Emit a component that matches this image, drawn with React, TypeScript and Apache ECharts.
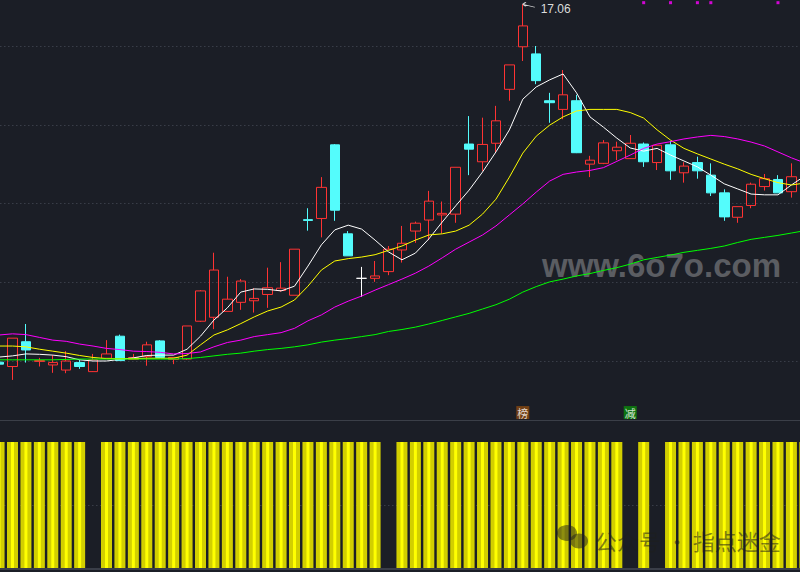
import React, { useEffect, useRef } from 'react';
import * as echarts from 'echarts';

// ---- data ----
const opens = [7.97, 7.86, 8.49, 7.99, 7.90, 7.77, 7.96, 7.73, 8.07, 8.63,
  8.04, 8.11, 8.51, 8.04, 8.05, 9.01, 9.11, 9.26, 9.49, 9.53,
  9.69, 9.79, 9.67, 11.59, 11.62, 13.49, 11.23, 10.10, 10.10, 10.27,
  10.82, 11.30, 11.58, 11.71, 11.73, 13.51, 13.06, 13.53, 14.90, 15.98,
  15.80, 14.61, 14.39, 14.61, 13.00, 13.02, 13.34, 13.14, 13.51, 13.04,
  13.49, 12.78, 13.04, 12.72, 12.27, 11.65, 11.95, 12.43, 12.61, 12.30, 12.60];
const closes = [7.92, 8.58, 8.28, 8.01, 7.96, 8.00, 7.86, 8.03, 8.18, 8.01,
  8.09, 8.41, 8.09, 8.09, 8.89, 9.78, 10.31, 9.57, 10.03, 9.59,
  9.86, 9.85, 10.84, 11.57, 12.41, 11.83, 10.67, 10.10, 10.16, 10.84,
  10.99, 11.50, 12.06, 11.75, 12.92, 13.38, 13.50, 14.10, 15.52, 16.51,
  15.12, 14.56, 14.76, 13.29, 13.10, 13.54, 13.43, 13.53, 13.06, 13.48,
  12.83, 12.95, 12.83, 12.27, 11.66, 11.92, 12.49, 12.63, 12.27, 12.68, 13.53];
const lows = [7.87, 7.52, 7.96, 7.86, 7.70, 7.69, 7.80, 7.72, 8.05, 8.00,
  8.03, 7.88, 8.08, 7.92, 8.03, 8.99, 8.81, 9.26, 9.30, 9.23,
  9.35, 9.76, 9.67, 11.31, 11.14, 11.56, 10.67, 9.63, 10.01, 10.18,
  10.50, 11.00, 11.07, 11.24, 11.51, 12.72, 12.83, 13.29, 14.61, 15.62,
  15.03, 14.05, 14.14, 13.28, 12.67, 13.00, 13.10, 13.13, 12.93, 12.85,
  12.60, 12.53, 12.63, 12.19, 11.56, 11.51, 11.88, 12.33, 12.27, 12.15, 12.47];
const highs = [8.05, 8.58, 8.94, 8.08, 8.15, 8.25, 8.03, 8.18, 8.53, 8.67,
  8.18, 8.49, 8.53, 8.10, 8.89, 9.80, 10.75, 10.14, 10.08, 9.85,
  10.37, 10.51, 10.84, 11.88, 12.67, 13.51, 11.30, 10.39, 10.54, 10.92,
  11.43, 11.54, 12.32, 12.05, 12.92, 14.22, 14.18, 14.48, 15.52, 17.06,
  16.00, 14.81, 15.39, 14.76, 13.21, 13.61, 13.57, 13.74, 13.55, 13.48,
  13.59, 13.05, 13.19, 13.02, 12.36, 11.92, 12.53, 12.75, 12.72, 13.02, 13.74];

const ma5 = [8.10, 8.13, 8.18, 8.17, 8.15, 8.11, 8.03, 8.00, 8.00, 8.04,
  8.08, 8.14, 8.15, 8.15, 8.30, 8.63, 9.04, 9.35, 9.75, 9.83,
  9.82, 9.78, 9.90, 10.41, 10.95, 11.33, 11.45, 11.35, 11.07, 10.77,
  10.57, 10.74, 11.10, 11.53, 11.94, 12.34, 12.80, 13.31, 13.87, 14.65,
  14.96, 15.14, 15.29, 14.81, 14.20, 13.94, 13.66, 13.41, 13.33, 13.40,
  13.23, 13.08, 12.93, 12.72, 12.50, 12.37, 12.24, 12.22, 12.22, 12.47, 12.70];
const ma10 = [8.38, 8.38, 8.36, 8.30, 8.25, 8.20, 8.14, 8.09, 8.06, 8.06,
  8.06, 8.07, 8.07, 8.07, 8.15, 8.41, 8.66, 8.79, 8.95, 9.12,
  9.27, 9.37, 9.55, 9.90, 10.31, 10.54, 10.60, 10.64, 10.70, 10.81,
  10.92, 11.07, 11.20, 11.23, 11.30, 11.45, 11.73, 12.11, 12.67, 13.28,
  13.71, 13.99, 14.20, 14.35, 14.39, 14.39, 14.39, 14.31, 14.17, 13.87,
  13.61, 13.40, 13.26, 13.13, 13.00, 12.88, 12.74, 12.63, 12.53, 12.47, 12.52];
const ma20 = [8.66, 8.69, 8.67, 8.60, 8.53, 8.50, 8.43, 8.38, 8.32, 8.29,
  8.25, 8.24, 8.22, 8.18, 8.19, 8.23, 8.36, 8.47, 8.53, 8.62,
  8.67, 8.72, 8.83, 9.02, 9.17, 9.37, 9.52, 9.65, 9.80, 9.94,
  10.08, 10.23, 10.41, 10.62, 10.84, 11.02, 11.20, 11.43, 11.71, 11.99,
  12.29, 12.57, 12.74, 12.80, 12.84, 12.91, 13.07, 13.23, 13.40, 13.51,
  13.57, 13.64, 13.69, 13.73, 13.70, 13.64, 13.56, 13.46, 13.31, 13.16, 13.03];
const ma60 = [8.03, 8.03, 8.03, 8.03, 8.03, 8.04, 8.05, 8.05, 8.05, 8.05,
  8.05, 8.05, 8.05, 8.05, 8.06, 8.09, 8.13, 8.17, 8.20, 8.25,
  8.29, 8.32, 8.36, 8.41, 8.48, 8.53, 8.57, 8.62, 8.67, 8.75,
  8.80, 8.86, 8.94, 9.03, 9.12, 9.21, 9.32, 9.43, 9.57, 9.75,
  9.89, 10.01, 10.08, 10.16, 10.22, 10.30, 10.37, 10.46, 10.57, 10.63,
  10.69, 10.76, 10.81, 10.86, 10.92, 11.01, 11.09, 11.14, 11.19, 11.25, 11.31];

// lower pane signal bars (1 = bar shown)
const signal = [1, 1, 1, 1, 1, 1, 1, 0, 1, 1,
  1, 1, 1, 1, 1, 1, 1, 1, 1, 1,
  1, 1, 1, 1, 1, 1, 1, 1, 1, 0,
  1, 1, 1, 1, 1, 1, 1, 1, 1, 1,
  1, 1, 1, 1, 1, 1, 1, 0, 1, 0,
  1, 1, 1, 1, 1, 1, 1, 1, 1, 1, 1];

const whiteDoji = [27];
const dotIndices = [48, 50, 52, 53, 58];
const dotLevel = 17.1;
const tagIndices = [39, 47];
const tagTexts = ['榜', '减'];
const tagColors = ['#8a4810', '#0b880b'];
const tagLevel = 6.69;
const peakIndex = 39;
const peakValue = 17.06;

const categories = opens.map((_, i) => String(i + 1));

const BG = '#1b1e26';
const RED = '#ff3333';
const CYAN = '#54fcfc';

export default function App() {
  const ref = useRef<HTMLDivElement>(null);
  useEffect(() => {
    if (!ref.current) return;
    const chart = echarts.init(ref.current, undefined, { renderer: 'svg' });
    const candleData = opens.map((o, i) => {
      const item: any = { value: [o, closes[i], lows[i], highs[i]] };
      if (whiteDoji.includes(i)) {
        item.itemStyle = { color: '#ffffff', color0: '#ffffff', borderColor: '#ffffff', borderColor0: '#ffffff', borderColorDoji: '#ffffff' };
      }
      return item;
    });
    const GL = -7.65;
    const GW = 819.2;
    const option: any = {
      animation: false,
      backgroundColor: BG,
      textStyle: { fontFamily: '"Liberation Sans", Arial, sans-serif' },
      grid: [
        { left: GL, width: GW, top: -32.75, height: 393.75, outerBoundsMode: 'none', containLabel: false },
        { left: GL, width: GW, top: 420, height: 148, outerBoundsMode: 'none', containLabel: false },
      ],
      xAxis: [
        { type: 'category', gridIndex: 0, data: categories, show: false },
        { type: 'category', gridIndex: 1, data: categories, show: false },
        { type: 'category', gridIndex: 1, data: categories, show: false },
      ],
      yAxis: [
        {
          type: 'value', gridIndex: 0, min: 8, max: 18, interval: 2,
          axisLine: { show: false }, axisTick: { show: false }, axisLabel: { show: false },
          splitLine: { show: true, lineStyle: { color: '#4a4f5a', type: [1, 3], width: 1 } },
        },
        { type: 'value', gridIndex: 1, min: 0, max: 1.175, show: false, splitLine: { show: false } },
      ],
      graphic: [
        {
          type: 'text', x: 542, y: 265, z: 0, silent: true,
          style: { text: 'www.6o7o.com', font: 'bold 33px "Liberation Sans", Arial, sans-serif', fill: '#5b5d62', align: 'left', verticalAlign: 'middle' },
        },
        { type: 'line', z: 50, silent: true, shape: { x1: 0, y1: 420.5, x2: 800, y2: 420.5 }, style: { stroke: '#3b3f48', lineWidth: 1 } },
        { type: 'line', z: 50, silent: true, shape: { x1: 0, y1: 569, x2: 800, y2: 569 }, style: { stroke: '#3a3e48', lineWidth: 2 } },
        { type: 'ellipse', z: 60, silent: true, shape: { cx: 567, cy: 533, rx: 10, ry: 8 }, style: { fill: 'rgba(30,30,30,0.5)' } },
        { type: 'ellipse', z: 60, silent: true, shape: { cx: 579, cy: 541, rx: 9, ry: 7.5 }, style: { fill: 'rgba(30,30,30,0.5)' } },
        {
          type: 'text', x: 595, y: 540, z: 60, silent: true,
          style: { text: '公众号 · 指点迷金', font: '22px "Noto Sans CJK SC", sans-serif', fill: 'rgba(30,30,30,0.55)', align: 'left', verticalAlign: 'middle' },
        },
      ],
      series: [
        {
          type: 'candlestick', xAxisIndex: 0, yAxisIndex: 0, data: candleData,
          barWidth: 10, clip: false,
          itemStyle: { color: 'rgba(0,0,0,0)', color0: CYAN, borderColor: RED, borderColor0: CYAN, borderWidth: 1 },
          markPoint: {
            symbol: 'path://M0,2 L3,0 M0,2 L3,4 M0,2 L12,5',
            symbolSize: [12, 5],
            symbolOffset: [6, 0.5],
            symbolKeepAspect: false,
            itemStyle: { color: 'none', borderColor: '#d8d8d8', borderWidth: 1 },
            label: { show: true, position: 'right', distance: 2, offset: [0, 4], color: '#dcdcdc', fontSize: 12, formatter: '{c}' },
            data: [{ coord: [peakIndex, peakValue], value: peakValue }],
          },
        },
        { type: 'line', name: 'MA5', xAxisIndex: 0, yAxisIndex: 0, data: ma5, symbol: 'none', clip: false, lineStyle: { color: '#ffffff', width: 1 } },
        { type: 'line', name: 'MA10', xAxisIndex: 0, yAxisIndex: 0, data: ma10, symbol: 'none', clip: false, lineStyle: { color: '#ffff00', width: 1 } },
        { type: 'line', name: 'MA20', xAxisIndex: 0, yAxisIndex: 0, data: ma20, symbol: 'none', clip: false, lineStyle: { color: '#ff00ff', width: 1 } },
        { type: 'line', name: 'MA60', xAxisIndex: 0, yAxisIndex: 0, data: ma60, symbol: 'none', clip: false, lineStyle: { color: '#00ff00', width: 1 } },
        {
          type: 'scatter', xAxisIndex: 0, yAxisIndex: 0, clip: false,
          symbol: 'rect', symbolSize: 3, itemStyle: { color: '#ff00ff' },
          data: dotIndices.map((i) => [i, dotLevel]),
        },
        {
          type: 'scatter', xAxisIndex: 0, yAxisIndex: 0, clip: false,
          symbol: 'rect', symbolSize: [13, 13],
          data: tagIndices.map((i, j) => ({
            value: [i, tagLevel],
            itemStyle: { color: tagColors[j] },
            label: { show: true, position: 'inside', formatter: tagTexts[j], color: '#ffffff', fontSize: 11, fontFamily: '"Noto Sans CJK SC", sans-serif' },
          })),
        },
        {
          type: 'bar', xAxisIndex: 1, yAxisIndex: 1, data: signal, barWidth: 11,
          itemStyle: { color: '#d2cf00' },
          markLine: {
            silent: true, z: 1, symbol: 'none', label: { show: false },
            lineStyle: { color: '#4a4f5a', type: [1, 3], width: 1 },
            data: [{ yAxis: 0.5 }],
          },
        },
        { type: 'bar', xAxisIndex: 2, yAxisIndex: 1, data: signal, barWidth: 3, itemStyle: { color: '#ffff00' } },
      ],
    };
    chart.setOption(option);
    return () => chart.dispose();
  }, []);
  return <div ref={ref} style={{ position: 'fixed', left: 0, top: 0, width: 800, height: 572 }} />;
}
